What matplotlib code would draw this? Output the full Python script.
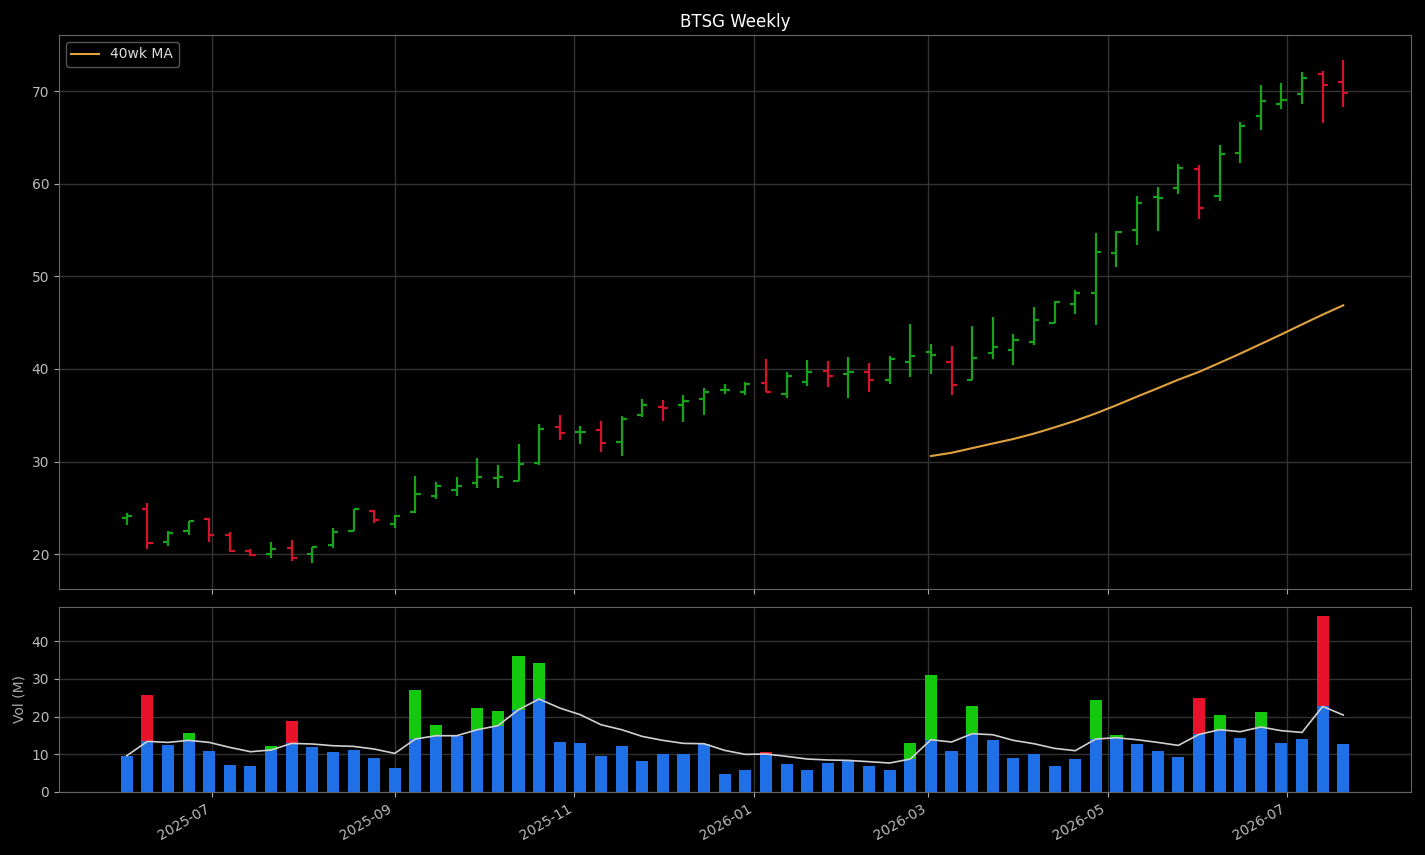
import numpy as np
import pandas as pd
import matplotlib
matplotlib.use("Agg")
import matplotlib.pyplot as plt
import matplotlib.dates as mdates

# Weekly bars, Mondays
weeks = pd.date_range("2025-06-02", periods=60, freq="W-MON")

opens = [23.92, 24.86, 21.30, 22.48, 23.78, 22.09, 20.32, 20.00, 20.65, 20.00,
         21.00, 22.48, 24.68, 23.27, 24.57, 26.30, 26.95, 27.70, 28.24, 27.92,
         29.86, 33.75, 33.20, 33.42, 32.13, 35.04, 35.91, 36.12, 36.77, 37.68,
         37.53, 38.50, 37.31, 38.61, 39.80, 39.47, 39.69, 38.82, 40.73, 41.85,
         40.73, 38.79, 41.74, 42.07, 42.93, 44.98, 47.03, 48.22, 52.54, 54.99,
         58.59, 59.56, 61.61, 58.70, 63.30, 67.30, 68.63, 69.71, 71.87, 71.00]
highs = [24.43, 25.51, 22.48, 23.64, 23.89, 22.38, 20.54, 21.30, 21.51, 20.83,
         22.80, 24.93, 24.83, 24.29, 28.42, 27.78, 28.32, 30.37, 29.61, 31.88,
         34.04, 35.00, 33.82, 34.36, 34.90, 36.74, 36.63, 37.17, 37.93, 38.36,
         38.57, 41.06, 39.65, 40.95, 40.84, 41.27, 40.63, 41.38, 44.84, 42.68,
         42.46, 44.62, 45.59, 43.76, 46.67, 47.32, 48.51, 54.67, 54.88, 58.66,
         59.63, 62.12, 62.00, 64.17, 66.65, 70.65, 70.86, 72.05, 72.16, 73.35]
lows = [23.16, 20.57, 20.90, 22.05, 21.30, 20.25, 19.82, 19.60, 19.28, 19.06,
        20.68, 22.48, 23.38, 22.84, 24.50, 25.97, 26.26, 27.13, 27.13, 27.92,
        29.64, 32.34, 31.91, 31.05, 30.62, 34.83, 34.40, 34.29, 35.04, 37.31,
        37.20, 37.50, 36.88, 38.18, 38.07, 36.88, 37.53, 38.39, 39.15, 39.47,
        37.20, 38.76, 41.09, 40.44, 42.60, 44.95, 45.95, 44.77, 51.03, 53.37,
        54.88, 58.88, 56.18, 58.12, 62.22, 65.79, 68.06, 68.60, 66.54, 68.27]
closes = [24.14, 21.22, 22.30, 23.60, 22.05, 20.32, 19.89, 20.54, 19.57, 20.76,
          22.38, 24.86, 23.67, 24.14, 26.48, 27.38, 27.42, 28.35, 28.38, 29.75,
          33.50, 33.10, 33.15, 32.02, 34.61, 36.12, 35.80, 36.55, 37.53, 37.71,
          38.39, 37.53, 39.26, 39.69, 39.26, 39.69, 38.82, 41.09, 41.42, 41.52,
          38.29, 41.20, 42.39, 43.14, 45.30, 47.25, 48.22, 52.65, 54.80, 57.90,
          58.44, 61.72, 57.40, 63.20, 66.25, 68.92, 69.03, 71.40, 70.68, 69.82]

# volume in millions, and its moving average as drawn
volume = [9.63, 25.81, 12.55, 15.73, 10.96, 7.24, 6.98, 12.28, 18.91, 12.02,
          10.69, 11.22, 9.10, 6.45, 27.13, 17.85, 14.75, 22.36, 21.56, 36.15,
          34.30, 13.34, 13.08, 9.63, 12.28, 8.30, 9.98, 9.98, 12.81, 4.85,
          5.92, 10.69, 7.51, 5.92, 7.77, 8.38, 6.98, 5.92, 13.08, 31.11,
          10.96, 22.89, 13.87, 9.10, 9.98, 6.98, 8.83, 24.48, 15.20, 12.81,
          10.96, 9.36, 25.01, 20.50, 14.40, 21.30, 13.08, 14.14, 46.76, 12.81]
vol_ma = [9.63, 13.43, 13.16, 13.70, 13.16, 11.83, 10.69, 11.14, 12.90, 12.73,
          12.28, 12.10, 11.40, 10.24, 14.06, 14.93, 14.93, 16.53, 17.59, 21.83,
          24.67, 22.28, 20.50, 17.85, 16.53, 14.75, 13.70, 12.90, 12.81, 11.04,
          9.98, 10.08, 9.45, 8.75, 8.49, 8.38, 8.04, 7.69, 8.75, 13.87,
          13.26, 15.46, 15.20, 13.70, 12.81, 11.57, 10.96, 14.06, 14.40, 13.87,
          13.16, 12.36, 15.28, 16.53, 16.00, 17.24, 16.26, 15.81, 22.71, 20.42]

df = pd.DataFrame({"open": opens, "high": highs, "low": lows, "close": closes,
                   "volume": volume, "vol_ma": vol_ma}, index=weeks)
df["ma40"] = df["close"].rolling(40).mean()
prev = df["close"].shift(1).fillna(df["open"])
up = df["close"] >= prev

GREEN, RED = "#17a317", "#d4122b"
VGREEN, VRED, BLUE = "#14c80e", "#e8122a", "#1f6fe6"

plt.style.use("dark_background")
plt.rcParams["font.family"] = ["DejaVu Sans"]

fig = plt.figure(figsize=(14.25, 8.55), dpi=100, facecolor="black")
ax = fig.add_axes([0.0414, 0.3111, 0.9488, 0.6480])
axv = fig.add_axes([0.0414, 0.0737, 0.9488, 0.2164], sharex=ax)

x = mdates.date2num(df.index.to_pydatetime())
colors = np.where(up, GREEN, RED)
tick = 1.75

# OHLC bars
ax.vlines(x, df["low"], df["high"], colors=colors, lw=1.6)
ax.hlines(df["open"], x - tick, x, colors=colors, lw=1.6)
ax.hlines(df["close"], x, x + tick, colors=colors, lw=1.6)
ax.plot(x, df["ma40"], color="#e0a23c", lw=1.5, label="40wk MA")

ax.set_title("BTSG Weekly", color="white", fontsize=12)
ax.set_ylim(16.25, 76.05)
ax.set_yticks([20, 30, 40, 50, 60, 70])
leg = ax.legend(loc="upper left", facecolor="black", edgecolor="#555555",
                fontsize=10, framealpha=1)
for t in leg.get_texts():
    t.set_color("#dddddd")

# Volume: above-average part colored by direction, the rest blue
vcolors = np.where(up, VGREEN, VRED)
axv.bar(x, df["volume"], width=4.1, color=vcolors)
axv.bar(x, np.minimum(df["volume"], df["vol_ma"]), width=4.1, color=BLUE)
axv.plot(x, df["vol_ma"], color="#d0d0d0", lw=1.2)
axv.set_ylim(0, 49.1)
axv.set_yticks([0, 10, 20, 30, 40])
axv.set_ylabel("Vol (M)", color="#aaaaaa", fontsize=10)

axv.set_xlim(mdates.date2num(pd.Timestamp("2025-05-10")),
             mdates.date2num(pd.Timestamp("2026-08-12")))
axv.xaxis.set_major_locator(mdates.MonthLocator(bymonth=[1, 3, 5, 7, 9, 11]))
axv.xaxis.set_major_formatter(mdates.DateFormatter("%Y-%m"))
plt.setp(ax.get_xticklabels(), visible=False)
plt.setp(axv.get_xticklabels(), rotation=30, ha="right")

for a in (ax, axv):
    a.set_facecolor("black")
    a.grid(True, color="#333333", lw=1)
    a.set_axisbelow(True)
    a.tick_params(colors="#aaaaaa", labelcolor="#bbbbbb", labelsize=10)
    for s in a.spines.values():
        s.set_color("#666666")

fig.savefig("out.png", dpi=100, facecolor="black")
